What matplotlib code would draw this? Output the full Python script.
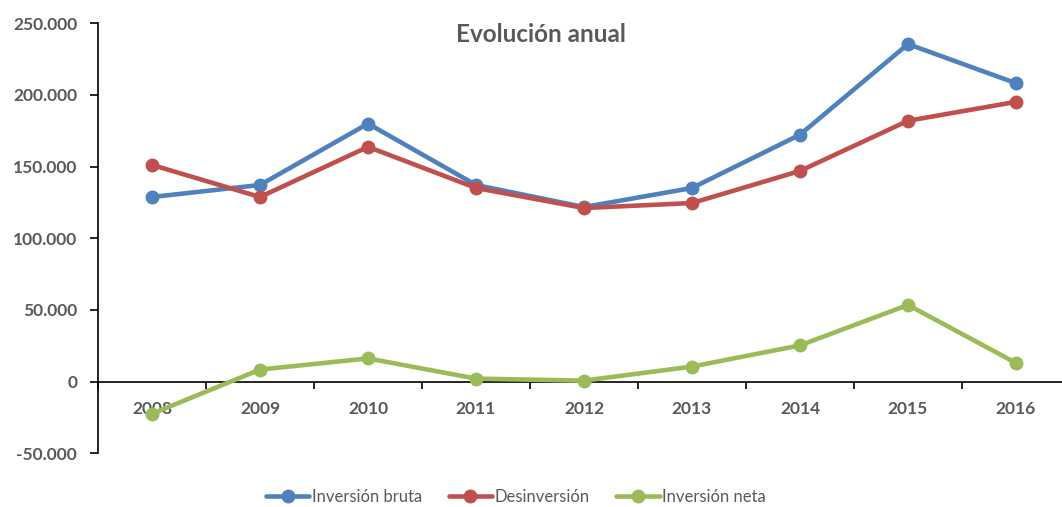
import matplotlib
matplotlib.use("Agg")
import matplotlib.pyplot as plt
from matplotlib.ticker import FuncFormatter, FixedLocator
import numpy as np

years = ["2008", "2009", "2010", "2011", "2012", "2013", "2014", "2015", "2016"]
inversion_bruta = [128800, 137200, 180000, 137200, 121800, 135100, 172300, 235500, 208200]
desinversion = [151200, 128800, 163800, 135100, 121100, 124600, 147000, 182000, 195200]
inversion_neta = [-22400, 8400, 16200, 2100, 700, 10500, 25300, 53500, 13000]

series_names = ["Inversión bruta", "Desinversión", "Inversión neta"]
colors = ["#4F81BD", "#C0504D", "#9BBB59"]
text_color = "#595959"

plt.rcParams['font.family'] = ['Lato', 'DejaVu Sans']

fig = plt.figure(figsize=(10.62, 5.07), dpi=100)
ax = fig.add_axes([98/1062, (507-453.3)/507, (1070-98)/1062, (453.3-23.3)/507])

x = np.arange(len(years))
for vals, name, c in zip([inversion_bruta, desinversion, inversion_neta], series_names, colors):
    ax.plot(x, vals, color=c, lw=3.3, marker="o", markersize=9, label=name,
            solid_capstyle="round", zorder=3, clip_on=False)

ax.set_xlim(-0.5, len(years) - 0.5)
ax.set_ylim(-50000, 250000)
ax.set_yticks(np.arange(-50000, 250001, 50000))
ax.yaxis.set_major_formatter(FuncFormatter(lambda v, p: f"{int(v):,}".replace(",", ".")))

for s in ["top", "right"]:
    ax.spines[s].set_visible(False)
ax.spines["left"].set_color("black")
ax.spines["left"].set_linewidth(1.2)
ax.spines["bottom"].set_position(("data", 0))
ax.spines["bottom"].set_color("black")
ax.spines["bottom"].set_linewidth(1.2)

ax.set_xticks(x)
ax.set_xticklabels(years)
ax.xaxis.set_minor_locator(FixedLocator(np.arange(-0.5, len(years), 1.0)))
ax.tick_params(axis="x", which="major", length=0, pad=14, labelsize=12.5, labelcolor=text_color)
ax.tick_params(axis="x", which="minor", length=5, width=1.2, direction="out", color="black")
ax.tick_params(axis="y", which="major", length=6, width=1.2, direction="out", color="black",
               labelsize=12.5, labelcolor=text_color, pad=9)
for lab in ax.get_xticklabels() + ax.get_yticklabels():
    lab.set_fontweight("bold")

fig.text(541/1062, 1 - 35/507, "Evolución anual", ha="center", va="center",
         fontsize=17.5, fontweight="bold", color=text_color)

leg = fig.legend(loc="center", bbox_to_anchor=(516/1062, 1 - 497/507), ncol=3, frameon=False,
                 fontsize=12, handlelength=2.6, columnspacing=1.6, handletextpad=0.15)
for t in leg.get_texts():
    t.set_color(text_color)

fig.savefig("out.png", dpi=100)
